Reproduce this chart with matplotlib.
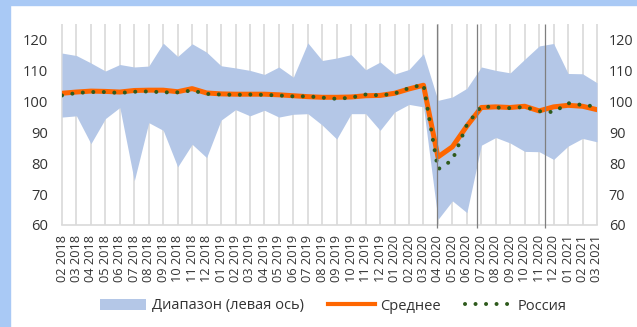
import numpy as np
import pandas as pd
import matplotlib
matplotlib.use("Agg")
import matplotlib.pyplot as plt
from matplotlib.lines import Line2D
from matplotlib.patches import Patch, Rectangle

plt.rcParams['font.family'] = ['Open Sans', 'DejaVu Sans']

# monthly labels 02 2018 ... 03 2021
months = [p.strftime("%m %Y") for p in pd.period_range("2018-02", "2021-03", freq="M")]

range_low = [94.9, 95.3, 86.3, 94.4, 98.0, 74.3, 93.1, 90.6, 78.8, 86.1,
             81.8, 93.9, 97.3, 95.3, 97.1, 94.9, 95.8, 96.0, 92.3, 87.8,
             96.0, 96.0, 90.6, 96.5, 99.0, 98.2, 61.8, 67.8, 64.0, 85.8,
             88.3, 86.5, 83.8, 83.7, 81.2, 85.5, 88.0, 86.9]
range_high = [115.6, 114.8, 112.4, 109.8, 111.9, 111.1, 111.4, 118.8, 114.5, 118.6,
              115.9, 111.5, 110.8, 110.0, 108.7, 111.1, 107.8, 118.9, 113.2, 114.0,
              115.1, 110.2, 112.7, 108.8, 110.3, 115.4, 100.3, 101.4, 104.2, 111.1,
              110.0, 109.2, 113.6, 117.9, 118.7, 109.0, 108.9, 106.0]
mean_val = [102.6, 103.0, 103.3, 103.2, 103.0, 103.5, 103.6, 103.6, 103.1, 104.1,
            102.7, 102.4, 102.3, 102.3, 102.3, 102.1, 101.8, 101.5, 101.3, 101.3,
            101.4, 101.8, 101.9, 102.6, 104.0, 105.2, 82.0, 85.3, 92.0, 98.0,
            98.2, 98.0, 98.4, 96.9, 98.2, 98.7, 98.4, 97.3]
russia = [101.9, 102.7, 103.0, 103.0, 102.7, 103.1, 103.2, 102.9, 102.9, 103.5,
          102.4, 102.2, 102.1, 102.2, 102.1, 101.9, 101.6, 101.6, 101.2, 100.8,
          101.2, 102.2, 101.9, 102.5, 104.3, 105.4, 78.0, 81.0, 92.4, 98.4,
          98.0, 97.8, 98.2, 96.8, 96.5, 99.4, 98.8, 98.3]

# dark separators between periods (category positions)
separators = [25.9, 28.7, 33.4]

yticks = [60, 70, 80, 90, 100, 110, 120]

c_range = '#b4c7e7'
c_mean = '#ff6600'
c_rus = '#2e5a1c'
c_grid = '#d9d9d9'
c_text = '#333333'
c_frame = '#a9c9f5'

W, H = 637, 327
fig = plt.figure(figsize=(W / 100, H / 100), dpi=100)
fig.patches.append(Rectangle((0, 1 - 5 / H), 1, 5 / H, transform=fig.transFigure,
                             color=c_frame, zorder=0))
fig.patches.append(Rectangle((0, 0), 10 / W, 1, transform=fig.transFigure,
                             color=c_frame, zorder=0))

ax = fig.add_axes([62 / W, 1 - 225 / H, 535 / W, 201 / H])
x = np.arange(len(months))

ax.vlines(x, 60, 125, color=c_grid, lw=1.2, zorder=1, clip_on=False)
ax.fill_between(x, range_low, range_high, color=c_range, lw=0, zorder=2)
ax.plot(x, mean_val, color=c_mean, lw=3.6, zorder=3, solid_joinstyle='round')
ax.plot(x, russia, color=c_rus, lw=2.9, linestyle=(0, (0.01, 2.6)),
        dash_capstyle='round', zorder=4)
ax.vlines(separators, 59.1, 125, color='#7f7f7f', lw=0.9, zorder=5, clip_on=False)

ax.set_xlim(0, len(months) - 1)
ax.set_ylim(60, 125)
ax.set_xticks(x)
ax.set_xticklabels(months, rotation=90, fontsize=9.2, color=c_text)
ax.set_yticks(yticks)
ax.set_yticklabels([str(v) for v in yticks], fontsize=10.6, color=c_text)
ax.tick_params(axis='x', length=0, pad=7)
ax.tick_params(axis='y', length=0, pad=10)
for s in ['top', 'right', 'left']:
    ax.spines[s].set_visible(False)
ax.spines['bottom'].set_color(c_grid)
ax.spines['bottom'].set_linewidth(1.2)

ax2 = ax.twinx()
ax2.set_ylim(60, 125)
ax2.set_yticks(yticks)
ax2.set_yticklabels([str(v) for v in yticks], fontsize=10.4, color=c_text)
ax2.tick_params(axis='y', length=0, pad=8.5)
for s in ax2.spines.values():
    s.set_visible(False)

handles = [
    Patch(facecolor=c_range, edgecolor='none'),
    Line2D([], [], color=c_mean, lw=3),
    Line2D([], [], color=c_rus, lw=2.9, linestyle=(0, (0.01, 2.6)), dash_capstyle='round'),
]
labels = ['Диапазон (левая ось)', 'Среднее', 'Россия']
fig.legend(handles, labels, loc='center', bbox_to_anchor=(333 / W, 1 - 306 / H),
           ncol=3, frameon=False, fontsize=10.5, handlelength=3.2,
           handletextpad=0.35, columnspacing=1.7, labelcolor=c_text)

fig.savefig('out.png', dpi=100)
